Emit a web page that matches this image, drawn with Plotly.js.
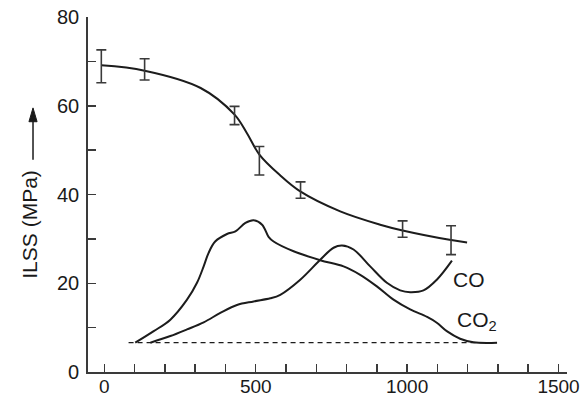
<!DOCTYPE html>
<html>
<head>
<meta charset="utf-8">
<script src="https://cdn.plot.ly/plotly-3.0.1.min.js"></script>
<style>html,body{margin:0;padding:0;background:#fff}#chart{width:583px;height:397px}</style>
</head>
<body>
<div id="chart"></div>
<script>
// ILSS measurements with error bars
const ilssX = [-10, 133, 430, 512, 648, 985, 1145];
const ilssY = [68.9, 68.2, 57.8, 47.6, 41.0, 32.2, 29.7];
const ilssErr = [3.7, 2.4, 2.05, 3.2, 1.85, 1.85, 3.25];

// ILSS fitted curve
const fitX = [-10, 133, 318, 430, 471, 512, 581, 647, 779, 911, 985, 1140, 1198];
const fitY = [69.1, 67.9, 64.0, 58.0, 53.8, 49.0, 44.3, 40.7, 36.2, 33.2, 31.9, 29.8, 29.2];

// CO2 evolution curve
const co2X = [102, 163, 218, 273, 306, 328, 344, 366, 405, 433, 466, 493, 521, 543, 559, 625, 713, 790, 845, 900, 955, 1010, 1066, 1098, 1131, 1175, 1219, 1297];
const co2Y = [6.6, 9.2, 11.8, 16.3, 20.1, 23.8, 26.8, 29.4, 31.1, 31.7, 33.6, 34.2, 33.2, 30.4, 29.4, 27.2, 25.2, 23.8, 21.9, 19.3, 16.3, 14.1, 12.4, 11.1, 9.2, 7.5, 6.7, 6.6];

// CO evolution curve
const coX = [152, 218, 273, 328, 383, 438, 493, 548, 581, 647, 713, 757, 785, 823, 878, 933, 977, 1010, 1054, 1098, 1148];
const coY = [6.6, 8.1, 9.6, 11.2, 13.3, 15.1, 15.9, 16.6, 17.4, 20.8, 25.3, 28.0, 28.5, 27.6, 23.8, 20.1, 18.4, 18.0, 18.4, 20.8, 25.1];

// Baseline
const baseX = [80, 1290];
const baseY = [6.6, 6.6];

const xTicks = [0, 500, 1000, 1500];
const yTicks = [0, 20, 40, 60, 80];

const ink = '#1c1c1c';
const axisCol = '#3a3a3a';

const traces = [
  {x: baseX, y: baseY, mode: 'lines', line: {color: ink, width: 1.2, dash: '5px,4px'}, hoverinfo: 'skip'},
  {x: fitX, y: fitY, mode: 'lines', line: {color: ink, width: 2, shape: 'spline', smoothing: 1}},
  {x: ilssX, y: ilssY, mode: 'markers', marker: {size: 1, color: 'rgba(0,0,0,0)'},
   error_y: {type: 'data', array: ilssErr, visible: true, color: axisCol, thickness: 1.6, width: 5}},
  {x: co2X, y: co2Y, mode: 'lines', line: {color: ink, width: 2, shape: 'spline', smoothing: 1}},
  {x: coX, y: coY, mode: 'lines', line: {color: ink, width: 2, shape: 'spline', smoothing: 1}}
];

const font = {family: '"Liberation Sans", Arial, Helvetica, sans-serif', color: '#1a1a1a'};

// arrow beside the y title (paper coordinates)
const arX = -0.1148, arTip = 0.744, arBase = 0.705, arTail = 0.598, arHalf = 0.0085;

const layout = {
  width: 583, height: 397,
  margin: {l: 88, r: 16, t: 17, b: 25},
  paper_bgcolor: '#fff', plot_bgcolor: '#fff',
  showlegend: false,
  font: Object.assign({size: 19}, font),
  xaxis: {
    range: [-54, 1528], tickvals: xTicks, ticktext: xTicks.map(String),
    ticks: 'inside', ticklen: 8, tickwidth: 1.5, tickcolor: axisCol,
    minor: {dtick: 100, tick0: 0, ticks: 'inside', ticklen: 8, tickwidth: 1.5, tickcolor: axisCol},
    showline: true, linecolor: axisCol, linewidth: 1.8, showgrid: false, zeroline: false,
    tickfont: Object.assign({size: 19}, font), ticklabelstandoff: -4, fixedrange: true
  },
  yaxis: {
    range: [0, 80], tickvals: yTicks, ticktext: yTicks.map(String),
    ticks: 'inside', ticklen: 8, tickwidth: 1.5, tickcolor: axisCol,
    minor: {dtick: 10, tick0: 0, ticks: 'inside', ticklen: 8, tickwidth: 1.5, tickcolor: axisCol},
    showline: true, linecolor: axisCol, linewidth: 1.8, showgrid: false, zeroline: false,
    tickfont: Object.assign({size: 20}, font), ticklabelstandoff: 3, fixedrange: true
  },
  shapes: [
    {type: 'line', xref: 'paper', yref: 'paper', x0: arX, x1: arX, y0: arTail, y1: arBase + 0.005,
     line: {color: '#1a1a1a', width: 1.5}},
    {type: 'path', xref: 'paper', yref: 'paper',
     path: `M ${arX - arHalf} ${arBase} L ${arX} ${arTip} L ${arX + arHalf} ${arBase} Z`,
     fillcolor: '#1a1a1a', line: {color: '#1a1a1a', width: 1}}
  ],
  annotations: [
    {xref: 'paper', yref: 'paper', x: -0.121, y: 0.415, text: 'ILSS (MPa)', textangle: -90,
     showarrow: false, font: Object.assign({size: 21}, font), xanchor: 'center', yanchor: 'middle'},
    {xref: 'x', yref: 'y', x: 1146, y: 20.8, text: 'CO', showarrow: false,
     xanchor: 'left', yanchor: 'middle', font: Object.assign({size: 21}, font)},
    {xref: 'x', yref: 'y', x: 1159, y: 11.5, text: 'CO<sub>2</sub>', showarrow: false,
     xanchor: 'left', yanchor: 'middle', font: Object.assign({size: 21}, font)}
  ]
};

Plotly.newPlot('chart', traces, layout, {staticPlot: true, displayModeBar: false});
</script>
</body>
</html>
